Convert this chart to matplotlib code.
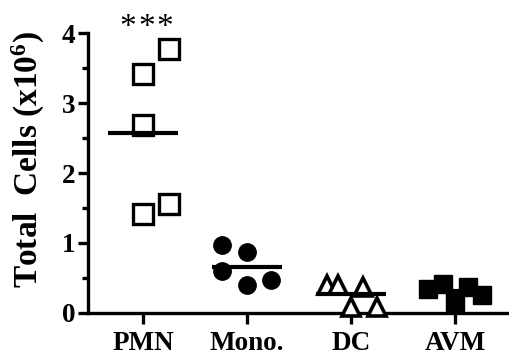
import numpy as np
import matplotlib
matplotlib.use('Agg')
import matplotlib.pyplot as plt

plt.rcParams['font.family'] = ['Liberation Serif', 'DejaVu Serif']
plt.rcParams['mathtext.fontset'] = 'custom'
plt.rcParams['mathtext.rm'] = 'Liberation Serif:bold'
plt.rcParams['mathtext.default'] = 'rm'

categories = ['PMN', 'Mono.', 'DC', 'AVM']

# values in 10^6 cells; offsets are the scatter jitter
pmn_vals = [3.41, 3.77, 2.68, 1.42, 1.55]
pmn_off = [0.0, 0.25, 0.0, 0.0, 0.25]
mono_vals = [0.97, 0.87, 0.60, 0.40, 0.47]
mono_off = [-0.24, 0.0, -0.24, 0.0, 0.23]
dc_vals = [0.40, 0.40, 0.37, 0.09, 0.09]
dc_off = [-0.23, -0.125, 0.115, 0.0, 0.25]
avm_vals = [0.34, 0.41, 0.16, 0.37, 0.26]
avm_off = [-0.26, -0.115, 0.0, 0.125, 0.26]

groups = [
    (pmn_vals, pmn_off, dict(marker='s', ms=14, mfc='white', mec='black', mew=2.4)),
    (mono_vals, mono_off, dict(marker='o', ms=12.5, mfc='black', mec='black', mew=1)),
    (dc_vals, dc_off, dict(marker='^', ms=12.5, mfc='white', mec='black', mew=2.6)),
    (avm_vals, avm_off, dict(marker='s', ms=12.5, mfc='black', mec='black', mew=1)),
]

fig = plt.figure(figsize=(5.09, 3.56), dpi=100)
ax = fig.add_axes([0.173, 0.121, 0.825, 0.786])

for i, (vals, off, style) in enumerate(groups):
    x = i + np.array(off)
    ax.plot(x, vals, linestyle='none', clip_on=False, zorder=3, **style)
    m = np.mean(vals)
    ax.plot([i - 0.34, i + 0.34], [m, m], color='black', lw=3, zorder=4,
            solid_capstyle='butt')

# significance stars over PMN
for sx in [-0.15, 0.03, 0.21]:
    ax.text(sx, 4.08, '*', ha='center', va='center', fontsize=24, clip_on=False)

ax.set_xlim(-0.53, 3.51)
ax.set_ylim(0, 4)
ax.set_xticks(range(len(categories)))
ax.set_xticklabels(categories, fontsize=19.5, fontweight='bold')
ax.set_yticks([0, 1, 2, 3, 4])
ax.set_yticks(np.arange(0.5, 4, 1.0), minor=True)
ax.set_yticklabels(['0', '1', '2', '3', '4'], fontsize=19.5, fontweight='bold')
ax.set_ylabel(r'Total  Cells (x10$^6$)', fontsize=24, fontweight='bold')
ax.yaxis.set_label_coords(-0.098, 0.55)

for side in ['top', 'right']:
    ax.spines[side].set_visible(False)
for side in ['left', 'bottom']:
    ax.spines[side].set_linewidth(2.4)
ax.tick_params(axis='y', which='major', width=2.4, length=7, pad=2)
ax.tick_params(axis='y', which='minor', width=2.4, length=4)
ax.tick_params(axis='x', width=2.4, length=8, pad=5)

fig.savefig('out.png', dpi=100)
